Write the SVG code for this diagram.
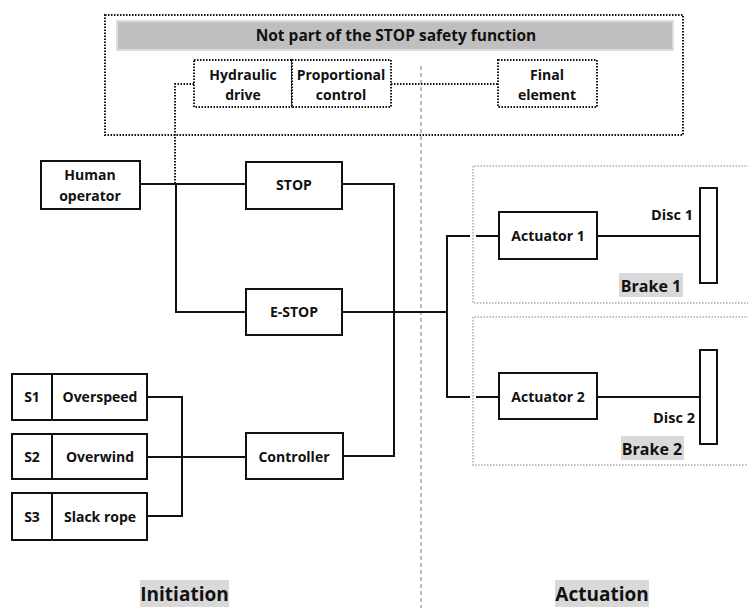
<svg xmlns="http://www.w3.org/2000/svg" width="748" height="608" viewBox="0 0 748 608">
<style>
text{font-family:"Open Sans","Liberation Sans",sans-serif;font-weight:bold;fill:#111;text-anchor:middle}
.n{font-size:14px}
.box{fill:#fff;stroke:#111;stroke-width:2}
.dbox{fill:#fff;stroke:#111;stroke-width:2;stroke-dasharray:1.5 1.5}
.dline{fill:none;stroke:#111;stroke-width:2;stroke-dasharray:1.5 1.5}
.line{fill:none;stroke:#111;stroke-width:2}
.gdash{fill:none;stroke:#bbb;stroke-width:2;stroke-dasharray:4 3}
.gdot{fill:none;stroke:#aaa;stroke-width:1.5;stroke-dasharray:1.5 1.5}
.lbl{fill:#d9d9d9}
</style>
<rect width="748" height="608" fill="#fff"/>
<!-- section divider -->
<line class="gdash" x1="421" y1="66" x2="421" y2="608"/>
<!-- not part of STOP group -->
<g id="nonsafety">
<rect class="dline" x="105" y="15" width="578" height="120"/>
<rect x="117" y="21" width="556" height="29" fill="#bfbfbf" stroke="#dcdcdc" stroke-width="2"/>
<text x="396" y="41" font-size="15.5px">Not part of the STOP safety function</text>
</g>
<!-- brake groups -->
<g id="brake1">
<path class="gdot" d="M749 166 H473 V303 H749"/>
<rect class="lbl" x="619" y="273" width="64" height="24"/>
<text x="651" y="292" font-size="16px">Brake 1</text>
</g>
<g id="brake2">
<path class="gdot" d="M749 317 H473 V465 H749"/>
<rect class="lbl" x="621" y="436" width="63" height="24"/>
<text x="652" y="455" font-size="16px">Brake 2</text>
</g>
<!-- connectors -->
<g id="connectors">
<path class="dline" d="M194 84 H175 V183"/>
<path class="dline" d="M391 84 H498"/>
<path class="line" d="M140 184 H246"/>
<path class="line" d="M176 184 V312 H246"/>
<path class="line" d="M342 184 H394 V456 H343"/>
<path class="line" d="M147 397 H182 V516 H147"/>
<path class="line" d="M147 457 H246"/>
<path class="line" d="M342 312 H447"/>
<path class="line" d="M470 236 H447 V397 H470"/>
<path class="line" d="M476 236 H499"/>
<path class="line" d="M476 397 H499"/>
<path class="line" d="M597 236 H700"/>
<path class="line" d="M597 397 H700"/>
</g>
<g id="hydraulic">
<rect class="dbox" x="194" y="60" width="98" height="47"/>
<text class="n" x="243" y="80">Hydraulic</text>
<text class="n" x="243" y="100">drive</text>
</g>
<g id="proportional">
<rect class="dbox" x="292" y="60" width="99" height="47"/>
<text class="n" x="341" y="80">Proportional</text>
<text class="n" x="341" y="100">control</text>
</g>
<g id="final">
<rect class="dbox" x="498" y="60" width="99" height="47"/>
<text class="n" x="547" y="80">Final</text>
<text class="n" x="547" y="100">element</text>
</g>
<g id="human">
<rect class="box" x="41" y="161" width="99" height="48"/>
<text class="n" x="90" y="180">Human</text>
<text class="n" x="90" y="201">operator</text>
</g>
<g id="stop">
<rect class="box" x="246" y="162" width="96" height="47"/>
<text class="n" x="294" y="190">STOP</text>
</g>
<g id="estop">
<rect class="box" x="246" y="289" width="96" height="46"/>
<text class="n" x="294" y="317">E-STOP</text>
</g>
<g id="controller">
<rect class="box" x="246" y="433" width="97" height="46"/>
<text class="n" x="294" y="462">Controller</text>
</g>
<g id="s1">
<rect class="box" x="12" y="374" width="40" height="46"/>
<rect class="box" x="52" y="374" width="95" height="46"/>
<text class="n" x="32" y="402">S1</text>
<text class="n" x="100" y="402">Overspeed</text>
</g>
<g id="s2">
<rect class="box" x="12" y="434" width="40" height="45"/>
<rect class="box" x="52" y="434" width="95" height="45"/>
<text class="n" x="32" y="462">S2</text>
<text class="n" x="100" y="462">Overwind</text>
</g>
<g id="s3">
<rect class="box" x="12" y="493" width="40" height="47"/>
<rect class="box" x="52" y="493" width="95" height="47"/>
<text class="n" x="32" y="522">S3</text>
<text class="n" x="100" y="522">Slack rope</text>
</g>
<g id="actuator1">
<rect class="box" x="499" y="212" width="98" height="47"/>
<text class="n" x="548" y="241">Actuator 1</text>
</g>
<g id="actuator2">
<rect class="box" x="499" y="373" width="98" height="46"/>
<text class="n" x="548" y="402">Actuator 2</text>
</g>
<g id="disc1">
<rect class="box" x="700" y="188" width="17" height="95"/>
<text x="693" y="220" font-size="14.5px" style="text-anchor:end">Disc 1</text>
</g>
<g id="disc2">
<rect class="box" x="700" y="350" width="17" height="94"/>
<text x="695" y="423" font-size="14.5px" style="text-anchor:end">Disc 2</text>
</g>
<g id="labels">
<rect class="lbl" x="140" y="580" width="89" height="27"/>
<text x="184.5" y="601" font-size="19px">Initiation</text>
<rect class="lbl" x="555" y="580" width="94" height="27"/>
<text x="602" y="601" font-size="19px">Actuation</text>
</g>
</svg>
